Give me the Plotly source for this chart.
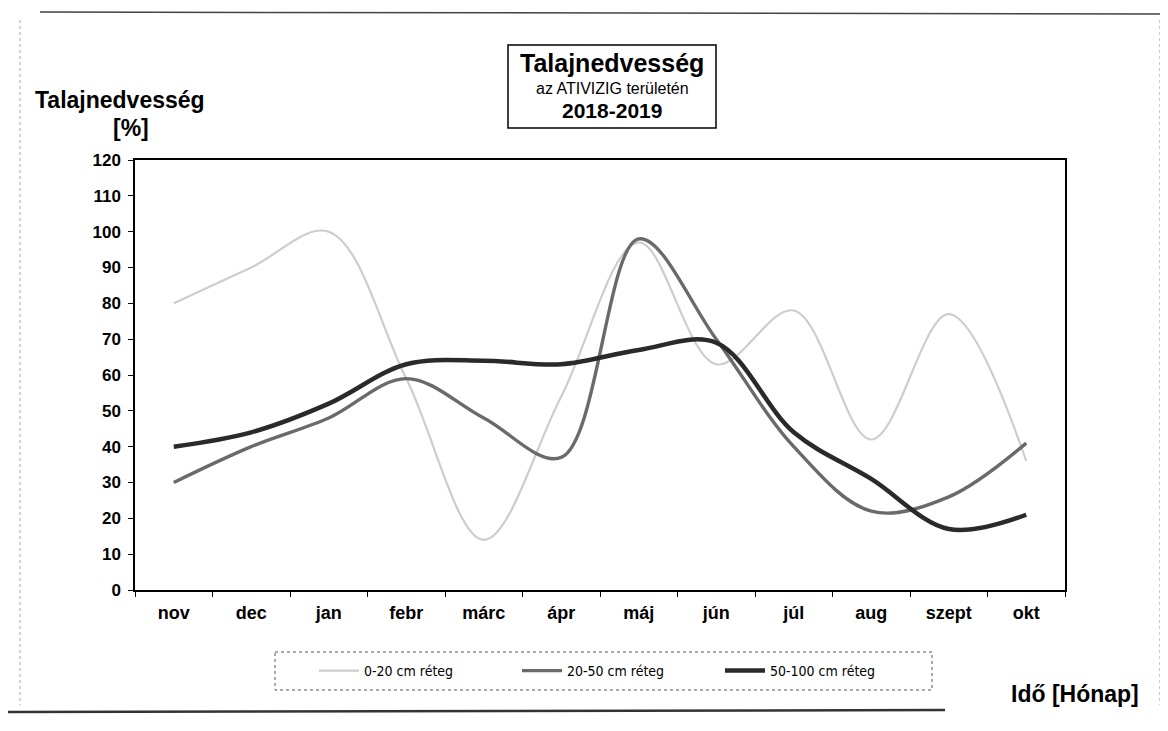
import plotly.graph_objects as go

MONTHS = ['nov', 'dec', 'jan', 'febr', 'márc', 'ápr', 'máj', 'jún', 'júl', 'aug', 'szept', 'okt']

LAYER_0_20 = [80, 90, 100, 59, 14, 54, 97, 63, 78, 42, 77, 36]
LAYER_20_50 = [30, 40, 48, 59, 48, 37, 98, 70, 40, 22, 26, 41]
LAYER_50_100 = [40, 44, 52, 63, 64, 63, 67, 69, 44, 31, 17, 21]

SERIES_NAMES = ['0-20 cm réteg', '20-50 cm réteg', '50-100 cm réteg']
Y_TICKS = list(range(0, 121, 10))

FONT = 'Liberation Sans, Arial, sans-serif'

# page body has an 8px margin, so work in screen pixels and shift
OFF = 8
W, H = 1168 - 2 * OFF, 731 - 2 * OFF
# plot frame in screen pixels: x 135..1065, y 160..590
L, R, T, B = 135 - OFF, 1065 - OFF, 160 - OFF, 590 - OFF


def px(x):
    return (x - OFF - L) / (R - L)


def py(y):
    return (B - (y - OFF)) / (B - T)


def label(text, x, y, size, anchor='center'):
    return dict(text=text, xref='paper', yref='paper', x=px(x), y=py(y),
                xanchor=anchor, yanchor='middle', showarrow=False,
                font=dict(size=size, family=FONT, color='black'))


series = [
    (SERIES_NAMES[0], LAYER_0_20, '#cdcdcd', 2.2),
    (SERIES_NAMES[1], LAYER_20_50, '#6a6a6a', 3.4),
    (SERIES_NAMES[2], LAYER_50_100, '#2a2a2a', 4.5),
]

fig = go.Figure()
for name, vals, color, width in series:
    fig.add_trace(go.Scatter(
        x=MONTHS, y=vals, name=name,
        mode='lines',
        line=dict(color=color, width=width, shape='spline', smoothing=1.0),
    ))

fig.update_layout(
    width=W, height=H,
    paper_bgcolor='white', plot_bgcolor='white',
    margin=dict(l=L, r=W - R, t=T, b=H - B),
    font=dict(family=FONT, color='black'),
    legend=dict(
        orientation='h',
        x=px(314), y=py(671), xanchor='left', yanchor='middle',
        font=dict(size=14, family='DejaVu Sans Condensed, sans-serif'),
        entrywidth=148,
        itemwidth=40,
        bgcolor='rgba(0,0,0,0)',
    ),
    xaxis=dict(
        type='category',
        range=[-0.5, 11.5],
        showline=True, linecolor='black', linewidth=1.5, mirror=True,
        showgrid=False, zeroline=False,
        ticks='outside', tickson='boundaries', ticklen=5, tickcolor='black',
        tickfont=dict(size=18, family=FONT, weight='bold'),
        ticklabelstandoff=6,
    ),
    yaxis=dict(
        range=[0, 120],
        tickvals=Y_TICKS,
        showline=True, linecolor='black', linewidth=1.5, mirror=True,
        showgrid=False, zeroline=False,
        ticks='outside', ticklen=5, tickcolor='black',
        tickfont=dict(size=17, family=FONT, weight='bold'),
        ticklabelstandoff=4,
    ),
    annotations=[
        # title box content
        label('<b>Talajnedvesség</b>', 612, 63, 25),
        label('az ATIVIZIG területén', 612, 88, 16),
        label('<b>2018-2019</b>', 612, 110, 21),
        # axis titles
        label('<b>Talajnedvesség</b>', 33, 100, 23, 'left'),
        label('<b>[%]</b>', 131, 128, 23),
        label('<b>Idő [Hónap]</b>', 1141, 694, 23, 'right'),
    ],
    shapes=[
        # title frame
        dict(type='rect', xref='paper', yref='paper',
             x0=px(508), x1=px(716), y0=py(45), y1=py(128),
             line=dict(color='black', width=1.5)),
        # legend frame
        dict(type='rect', xref='paper', yref='paper',
             x0=px(275), x1=px(932), y0=py(652), y1=py(690),
             line=dict(color='#555555', width=1, dash='dot')),
        # scanned page borders
        dict(type='line', xref='paper', yref='paper',
             x0=px(40), x1=px(1168), y0=py(12), y1=py(14),
             line=dict(color='#444444', width=1.5)),
        dict(type='line', xref='paper', yref='paper',
             x0=px(0), x1=px(945), y0=py(712), y1=py(710),
             line=dict(color='#333333', width=2.5)),
        dict(type='line', xref='paper', yref='paper',
             x0=px(20), x1=px(20), y0=py(20), y1=py(705),
             line=dict(color='#aaaaaa', width=1, dash='dot')),
        dict(type='line', xref='paper', yref='paper',
             x0=px(1160), x1=px(1160), y0=py(20), y1=py(705),
             line=dict(color='#999999', width=1, dash='dot')),
    ],
)

fig.write_html('out.html')
